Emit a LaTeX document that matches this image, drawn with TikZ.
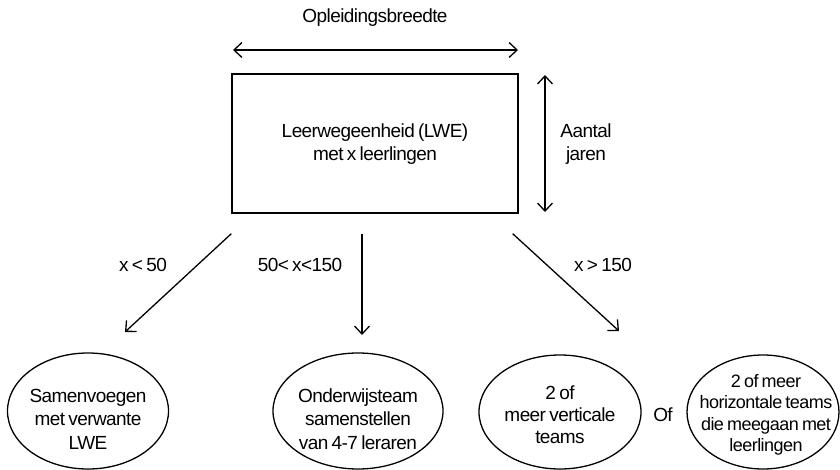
\documentclass[tikz,border=0pt]{standalone}
\usepackage{fontspec}
\setmainfont{Liberation Sans}[LetterSpace=-3,WordSpace=0.7]
\usetikzlibrary{arrows.meta,shapes.geometric}
\begin{document}
\begin{tikzpicture}[x=1pt,y=-1pt,
  every node/.style={font=\fontsize{19}{23.5}\selectfont},
  line/.style={line width=1.3pt},
  tip/.style={-{Straight Barb[length=8pt,width=15pt,line width=1.3pt]}},
  twotip/.style={{Straight Barb[length=8pt,width=15pt,line width=1.3pt]}-{Straight Barb[length=8pt,width=15pt,line width=1.3pt]}},
  oval/.style={ellipse,draw,line width=1.3pt,inner sep=0pt},
  txt/.style={align=center,inner sep=0pt}]
\useasboundingbox (0,0) rectangle (840,470);

% main unit
\node[draw,line width=1.3pt,minimum width=286pt,minimum height=139pt,inner sep=0pt] (lwe) at (375,143.5) {};
\node[txt] (lwetxt) at (375,144) {Leerwegeenheid (LWE)\\met x leerlingen};

% dimension arrows
\coordinate (wl) at (233,50);
\coordinate (wr) at (518,50);
\draw[line,twotip] (wl) -- (wr);
\node[txt] (breedte) at (375,18) {Opleidingsbreedte};
\coordinate (ht) at (545,75);
\coordinate (hb) at (545,212);
\draw[line,twotip] (ht) -- (hb);
\node[txt] (jaren) at (586,144) {Aantal\\jaren};

% outcome ovals
\node[oval,minimum width=161pt,minimum height=116pt] (o1) at (88,411) {};
\node[oval,minimum width=170pt,minimum height=116pt] (o2) at (358,411) {};
\node[oval,minimum width=162pt,minimum height=114pt] (o3) at (560,412) {};
\node[oval,minimum width=152pt,minimum height=114pt] (o4) at (763,412) {};
\node[txt] (t1) at (88,419) {Samenvoegen\\met verwante\\LWE};
\node[txt] (t2) at (358,419) {Onderwijsteam\\samenstellen\\van 4-7 leraren};
\node[txt,font=\fontsize{19}{22}\selectfont] (t3) at (560,415) {2 of\\meer verticale\\teams};
\node[txt,font=\fontsize{18}{21.5}\selectfont] (t4) at (766,415) {2 of meer\\horizontale teams\\die meegaan met\\leerlingen};
\node[txt] (of) at (663,415) {Of};

% branches
\coordinate (e1) at (125,332);
\coordinate (e2) at (362,335);
\coordinate (e3) at (619,331);
\draw[line,tip] ([yshift=-20pt]lwe.south west) -- (e1);
\draw[line,tip] ([xshift=-13pt,yshift=-20pt]lwe.south) -- (e2);
\draw[line,tip] ([xshift=-6pt,yshift=-20pt]lwe.south east) -- (e3);
\node[txt] (c1) at (143,265) {x < 50};
\node[txt] (c2) at (300,265) {50< x<150};
\node[txt] (c3) at (603,265) {x > 150};
\end{tikzpicture}
\end{document}
